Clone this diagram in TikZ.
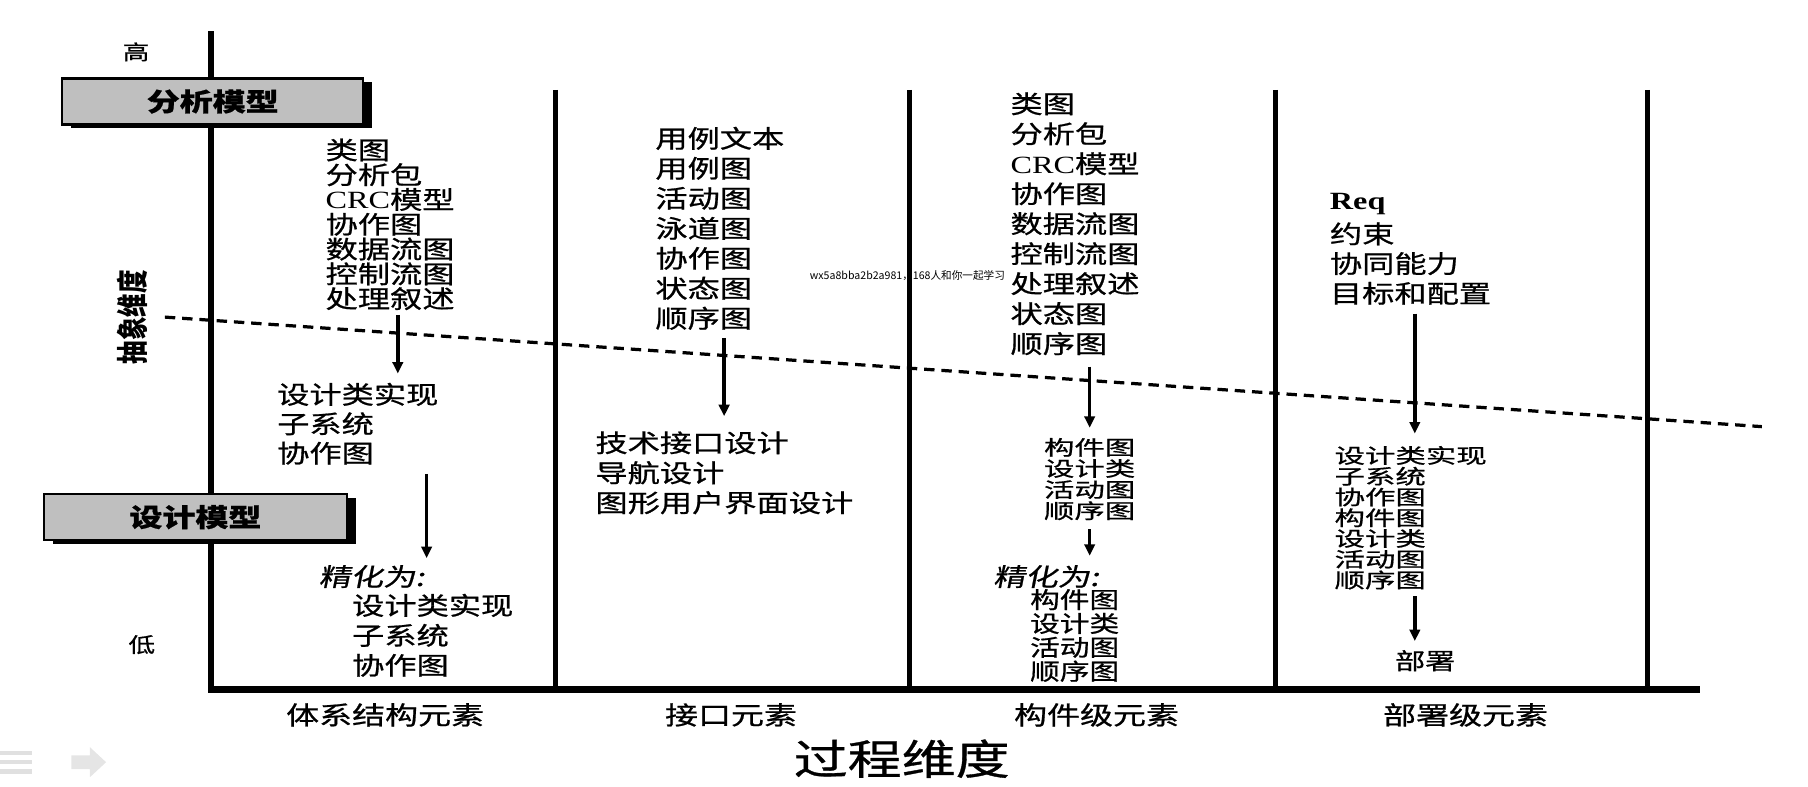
\documentclass[tikz,border=0pt]{standalone}
\usepackage{fontspec}
\usepackage{graphicx}
\usetikzlibrary{arrows.meta,shadows}
\newfontfamily\cjk[FakeStretch=1.3,FakeBold=0.8]{Noto Sans CJK SC}
\newfontfamily\cjkc[FakeStretch=1.5,FakeBold=0.8]{Noto Sans CJK SC}
\newfontfamily\cjkn{Noto Sans CJK SC}
\newfontfamily\cjki[FakeStretch=1.3,FakeSlant=0.2,FakeBold=0.8]{Noto Sans CJK SC}
\newfontfamily\lat[FakeStretch=1.3]{Liberation Serif}
\newcommand\CRCtxt{{\lat CRC}}
\begin{document}
\begin{tikzpicture}[x=0.5pt,y=-0.5pt,
  t/.style={inner sep=0pt,anchor=west,font=\fontsize{10.75}{12}\cjk},
  tb/.style={inner sep=0pt,anchor=west,font=\fontsize{9.9}{11}\cjk},
  tc/.style={inner sep=0pt,anchor=west,font=\fontsize{8.8}{10}\cjkc},
  ti/.style={inner sep=0pt,anchor=west,font=\fontsize{10.75}{12}\cjki},
  lab/.style={inner sep=0pt,font=\fontsize{11}{13}\cjk},
  hl/.style={inner sep=0pt,font=\fontsize{8.9}{10}\cjk},
  axisline/.style={line width=3pt,line join=miter},
  sepline/.style={line width=2pt},
  dl/.style={line width=1.4pt,dash pattern=on 4.5pt off 3pt},
  arr/.style={line width=1.5pt,-{Triangle[length=5pt,width=4.5pt]}},
  mbox/.style={draw,line width=1pt,fill=black!25,minimum height=20pt,inner sep=0pt,
    font=\fontsize{11}{13}\cjk\bfseries,
    drop shadow={shadow xshift=4pt,shadow yshift=-1.7pt,fill=black,opacity=1}}
]
\useasboundingbox (0,0) rectangle (1568,682);

% axes
\coordinate (T) at (183,27);
\coordinate (O) at (183,598);
\coordinate (R) at (1474,598);
\draw[axisline] (T) -- (O) -- (R);
\foreach \sx [count=\k] in {482,789,1106,1429}{
  \coordinate (s\k) at (\sx,78);
  \draw[sepline] (s\k) -- (s\k |- O);
}
% dashed line
\coordinate (d1) at (143,275);
\coordinate (d2) at (1528,370);
\draw[dl] (d1) -- (d2);

% model boxes
\node[mbox,minimum width=130.5pt] (am) at (184.5,88) {分析模型};
\node[mbox,minimum width=131.5pt] (dm) at (169.5,448.5) {设计模型};

% axis labels
\node[hl] (hi) at (118,45) {高};
\node[hl] (lo) at (123,559) {低};
\node[inner sep=0pt] (abs) at (115,275) {\rotatebox{90}{\scalebox{1}[1.35]{\fontsize{10.2}{12}\cjkn\bfseries 抽象维度}}};

% column 1
\foreach \tx [count=\i] in {类图,分析包,\CRCtxt 模型,协作图,数据流图,控制流图,处理叙述}
  \node[t] (c1a\i) at (282,{130+21.5*(\i-1)}) {\tx};
\foreach \tx [count=\i] in {设计类实现,子系统,协作图}
  \node[t] (c1b\i) at (240,{342+25.5*(\i-1)}) {\tx};
\node[ti] (c1r) at (276,500) {精化为:};
\foreach \tx [count=\i] in {设计类实现,子系统,协作图}
  \node[t] (c1c\i) at (305,{525+26*(\i-1)}) {\tx};

% column 2
\foreach \tx [count=\i] in {用例文本,用例图,活动图,泳道图,协作图,状态图,顺序图}
  \node[t] (c2a\i) at (568,{120+26*(\i-1)}) {\tx};
\foreach \tx [count=\i] in {技术接口设计,导航设计,图形用户界面设计}
  \node[t] (c2b\i) at (516,{384+26*(\i-1)}) {\tx};

% column 3
\foreach \tx [count=\i] in {类图,分析包,\CRCtxt 模型,协作图,数据流图,控制流图,处理叙述,状态图,顺序图}
  \node[t] (c3a\i) at (876,{90+26*(\i-1)}) {\tx};
\foreach \tx [count=\i] in {构件图,设计类,活动图,顺序图}
  \node[tc] (c3b\i) at (905,{388+18.3*(\i-1)}) {\tx};
\node[ti] (c3r) at (861,500) {精化为:};
\foreach \tx [count=\i] in {构件图,设计类,活动图,顺序图}
  \node[tb] (c3c\i) at (893,{520+20.7*(\i-1)}) {\tx};

% column 4
\node[t] (c4a1) at (1153,177) {{\lat\bfseries Req}};
\foreach \tx [count=\i from 2] in {约束,协同能力,目标和配置}
  \node[t] (c4a\i) at (1153,{177+25.8*(\i-1)}) {\tx};
\foreach \tx [count=\i] in {设计类实现,子系统,协作图,构件图,设计类,活动图,顺序图}
  \node[tc] (c4b\i) at (1157,{395+18*(\i-1)}) {\tx};
\node[inner sep=0pt,font=\fontsize{10}{12}\cjk] (c4d) at (1236,573) {部署};

% arrows
\coordinate (a1s) at (345,273); \coordinate (a1e) at (345,324);
\coordinate (a2s) at (370,411); \coordinate (a2e) at (370,484);
\coordinate (a3s) at (628,293); \coordinate (a3e) at (628,361);
\coordinate (a4s) at (945,318); \coordinate (a4e) at (945,371);
\coordinate (a5s) at (945,459); \coordinate (a5e) at (945,482);
\coordinate (a6s) at (1227,272); \coordinate (a6e) at (1227,376);
\coordinate (a7s) at (1227,517); \coordinate (a7e) at (1227,556);
\foreach \k in {1,...,7} \draw[arr] (a\k s) -- (a\k e);

% bottom labels
\node[lab] (b1) at (334,620) {体系结构元素};
\node[lab] (b2) at (634,620) {接口元素};
\node[lab] (b3) at (951,620) {构件级元素};
\node[lab] (b4) at (1271,620) {部署级元素};
\node[inner sep=0pt,font=\fontsize{18}{20}\cjk] (proc) at (782,658) {过程维度};

% watermark
\node[inner sep=0pt,anchor=west,font=\fontsize{4.6}{5}\cjkn] (wm) at (702,239) {wx5a8bba2b2a981，168人和你一起学习};

% faint player icons
\fill[black!12] (0,651) rectangle (28,655);
\fill[black!12] (0,659) rectangle (28,663);
\fill[black!12] (0,667) rectangle (28,671);
\fill[black!10] (62,655) -- (78,655) -- (78,648) -- (92,661) -- (78,674) -- (78,667) -- (62,667) -- cycle;
\end{tikzpicture}
\end{document}
